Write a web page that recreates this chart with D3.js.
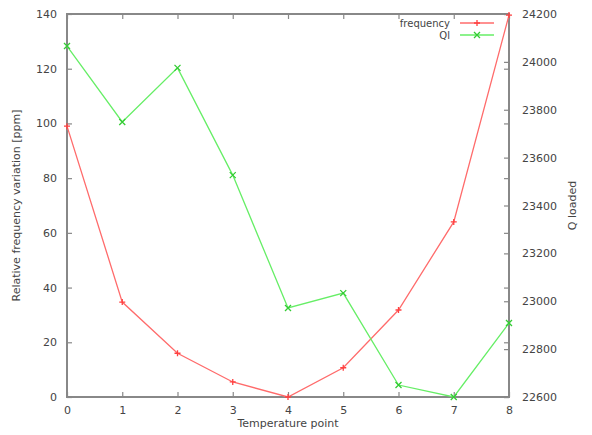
<!DOCTYPE html>
<html><head><meta charset="utf-8">
<script src="https://cdn.jsdelivr.net/npm/d3@7"></script>
<style>body{margin:0;background:#fff}svg{display:block}text{font-family:"DejaVu Sans",sans-serif;fill:#444}</style>
</head><body>
<script>
const points = [0,1,2,3,4,5,6,7,8];
const frequency = [99, 34.7, 16, 5.5, 0, 10.7, 31.8, 64, 139.6];
const ql = [24066, 23749, 23975, 23527, 22972, 23034, 22650, 22600, 22909];
const xTicks = [0,1,2,3,4,5,6,7,8];
const yTicks = [0,20,40,60,80,100,120,140];
const y2Ticks = [22600,22800,23000,23200,23400,23600,23800,24000,24200];

const W=592,H=435, L=67, R=509, T=14, B=397;
const svg=d3.select("body").append("svg").attr("width",W).attr("height",H);
const x=d3.scaleLinear().domain([0,8]).range([L,R]);
const y=d3.scaleLinear().domain([0,140]).range([B,T]);
const y2=d3.scaleLinear().domain([22600,24200]).range([B,T]);
const axisCol="#888";

// frame
svg.append("rect").attr("x",L).attr("y",T).attr("width",R-L).attr("height",B-T)
  .attr("fill","none").attr("stroke",axisCol).attr("stroke-width",2);

function style(g){g.select(".domain").remove();g.selectAll("line").attr("stroke",axisCol).attr("stroke-width",1.2);
  g.selectAll("text").attr("fill","#444").style("font-size","11px").style("font-family","DejaVu Sans, sans-serif");}

svg.append("g").attr("transform",`translate(0,${B})`).call(d3.axisBottom(x).tickValues(xTicks).tickSize(-5).tickPadding(9).tickFormat(d3.format("d"))).call(style);
svg.append("g").attr("transform",`translate(0,${T})`).call(d3.axisTop(x).tickValues(xTicks).tickSize(-5).tickFormat("")).call(style);
svg.append("g").attr("transform",`translate(${L},0)`).call(d3.axisLeft(y).tickValues(yTicks).tickSize(-5).tickPadding(10)).call(style);
svg.append("g").attr("transform",`translate(${R},0)`).call(d3.axisRight(y).tickValues(yTicks).tickSize(-5).tickFormat("")).call(style);
svg.append("g").attr("transform",`translate(${R},0)`).call(d3.axisRight(y2).tickValues(y2Ticks).tickSize(-5).tickPadding(13).tickFormat(d3.format("d"))).call(style);

// axis titles
svg.append("text").attr("x",(L+R)/2).attr("y",427).attr("text-anchor","middle").style("font-size","11px").text("Temperature point");
svg.append("text").attr("transform",`translate(20,${(T+B)/2}) rotate(-90)`).attr("text-anchor","middle").style("font-size","11px").text("Relative frequency variation [ppm]");
svg.append("text").attr("transform",`translate(576,${(T+B)/2}) rotate(-90)`).attr("text-anchor","middle").style("font-size","11px").text("Q loaded");

const red="#ff6b6b", green="#66ee66";
function plus(g,cx,cy,c){g.append("path").attr("d",`M${cx-3},${cy}H${cx+3}M${cx},${cy-3}V${cy+3}`).attr("stroke",c).attr("stroke-width",1.3);}
function cross(g,cx,cy,c){g.append("path").attr("d",`M${cx-3},${cy-3}L${cx+3},${cy+3}M${cx-3},${cy+3}L${cx+3},${cy-3}`).attr("stroke",c).attr("stroke-width",1.3);}

const gF=svg.append("g"), gQ=svg.append("g");
gF.append("path").datum(points).attr("fill","none").attr("stroke",red).attr("stroke-width",1.3)
  .attr("d",d3.line().x(i=>x(i)).y(i=>y(frequency[i])));
points.forEach(i=>plus(gF,x(i),y(frequency[i]),"#ff4040"));
gQ.append("path").datum(points).attr("fill","none").attr("stroke",green).attr("stroke-width",1.3)
  .attr("d",d3.line().x(i=>x(i)).y(i=>y2(ql[i])));
points.forEach(i=>cross(gQ,x(i),y2(ql[i]),"#33cc33"));

// legend
const lg=svg.append("g");
[["frequency",red,23,plus,"#ff4040"],["Ql",green,35,cross,"#33cc33"]].forEach(([t,c,ly,m,mc])=>{
  lg.append("text").attr("x",450).attr("y",ly+3.5).attr("text-anchor","end").style("font-size","10px").text(t);
  lg.append("line").attr("x1",460).attr("x2",494).attr("y1",ly).attr("y2",ly).attr("stroke",c).attr("stroke-width",1.3);
  m(lg,477,ly,mc);
});
</script>
</body></html>
